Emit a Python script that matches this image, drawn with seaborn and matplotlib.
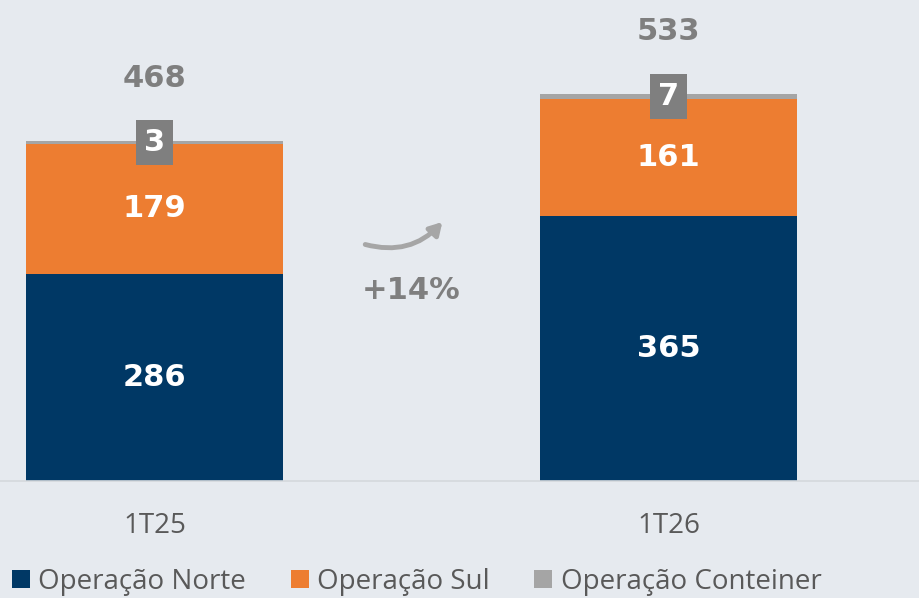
import matplotlib
matplotlib.use("Agg")
import matplotlib.pyplot as plt
import seaborn as sns
import pandas as pd
from matplotlib.patches import Patch

categories = ["1T25", "1T26"]
norte = [286, 365]
sul = [179, 161]
conteiner = [3, 7]
totals = [468, 533]
growth_label = "+14%"
series_names = ["Operação Norte", "Operação Sul", "Operação Conteiner"]

C_NORTE = "#003865"
C_SUL = "#ED7D31"
C_CONT = "#A5A5A5"
C_BOX = "#7F7F7F"
C_TXT = "#595959"
BG = "#E6EAEF"

sns.set_theme(style="white")
plt.rcParams["font.family"] = ["DejaVu Sans"]

df = pd.DataFrame({"cat": categories, "norte": norte, "sul": sul, "cont": conteiner})
df["lvl2"] = df["norte"] + df["sul"]
df["lvl3"] = df["lvl2"] + df["cont"]

fig = plt.figure(figsize=(9.2, 5.98), dpi=100, facecolor=BG)
ax = fig.add_axes([-102.5 / 920, 117 / 598, 1028 / 920, 481 / 598])
ax.set_facecolor(BG)

sns.barplot(data=df, x="cat", y="lvl3", color=C_CONT, width=0.5, saturation=1, ax=ax, linewidth=0)
sns.barplot(data=df, x="cat", y="lvl2", color=C_SUL, width=0.5, saturation=1, ax=ax, linewidth=0)
sns.barplot(data=df, x="cat", y="norte", color=C_NORTE, width=0.5, saturation=1, ax=ax, linewidth=0)

ax.set_xlim(-0.5, 1.5)
ax.set_ylim(0, 663)
ax.set_xlabel("")
ax.set_ylabel("")
ax.set_yticks([])
for s in ["left", "right", "top"]:
    ax.spines[s].set_visible(False)
ax.spines["bottom"].set_color("#D4D8DC")
ax.spines["bottom"].set_linewidth(1.2)
ax.set_xticks([0, 1])
ax.set_xticklabels(categories, fontfamily="Open Sans", fontsize=20, color=C_TXT)
ax.tick_params(axis="x", which="major", length=0, pad=22)
ax.set_xticks([0.5], minor=True)
ax.tick_params(axis="x", which="minor", length=8, color="#D4D8DC", width=1)

lab_kw = dict(ha="center", va="center", fontsize=22, fontweight="bold")
for i in range(len(categories)):
    ax.text(i, norte[i] / 2, str(norte[i]), color="white", **lab_kw)
    ax.text(i, norte[i] + sul[i] / 2, str(sul[i]), color="white", **lab_kw)
    ax.text(i, norte[i] + sul[i] + conteiner[i] / 2, str(conteiner[i]), color="white",
            bbox=dict(boxstyle="square,pad=0.26", fc=C_BOX, ec="none"), **lab_kw)
    ax.annotate(str(totals[i]), xy=(i, totals[i]), xytext=(0, 45), textcoords="offset points",
                color=C_BOX, **lab_kw)

# growth arrow
ax.annotate("", xy=(0.56, 357), xytext=(0.41, 326),
            arrowprops=dict(arrowstyle="-|>,head_length=0.6,head_width=0.35", color="#A6A6A6",
                            lw=3.5, connectionstyle="arc3,rad=0.3", shrinkA=0, shrinkB=0))
ax.text(0.5, 263, growth_label, color=C_BOX, **lab_kw)

handles = [Patch(facecolor=c, edgecolor="none") for c in [C_NORTE, C_SUL, C_CONT]]
leg = fig.legend(handles, series_names, loc="lower left", bbox_to_anchor=(0.013, 0.004),
                 ncol=3, frameon=False, handlelength=0.65, handleheight=0.65,
                 handletextpad=0.3, columnspacing=1.6, borderpad=0, borderaxespad=0,
                 prop={"family": "Open Sans", "size": 20})
for t in leg.get_texts():
    t.set_color(C_TXT)

fig.savefig("out.png", dpi=100, facecolor=BG)
